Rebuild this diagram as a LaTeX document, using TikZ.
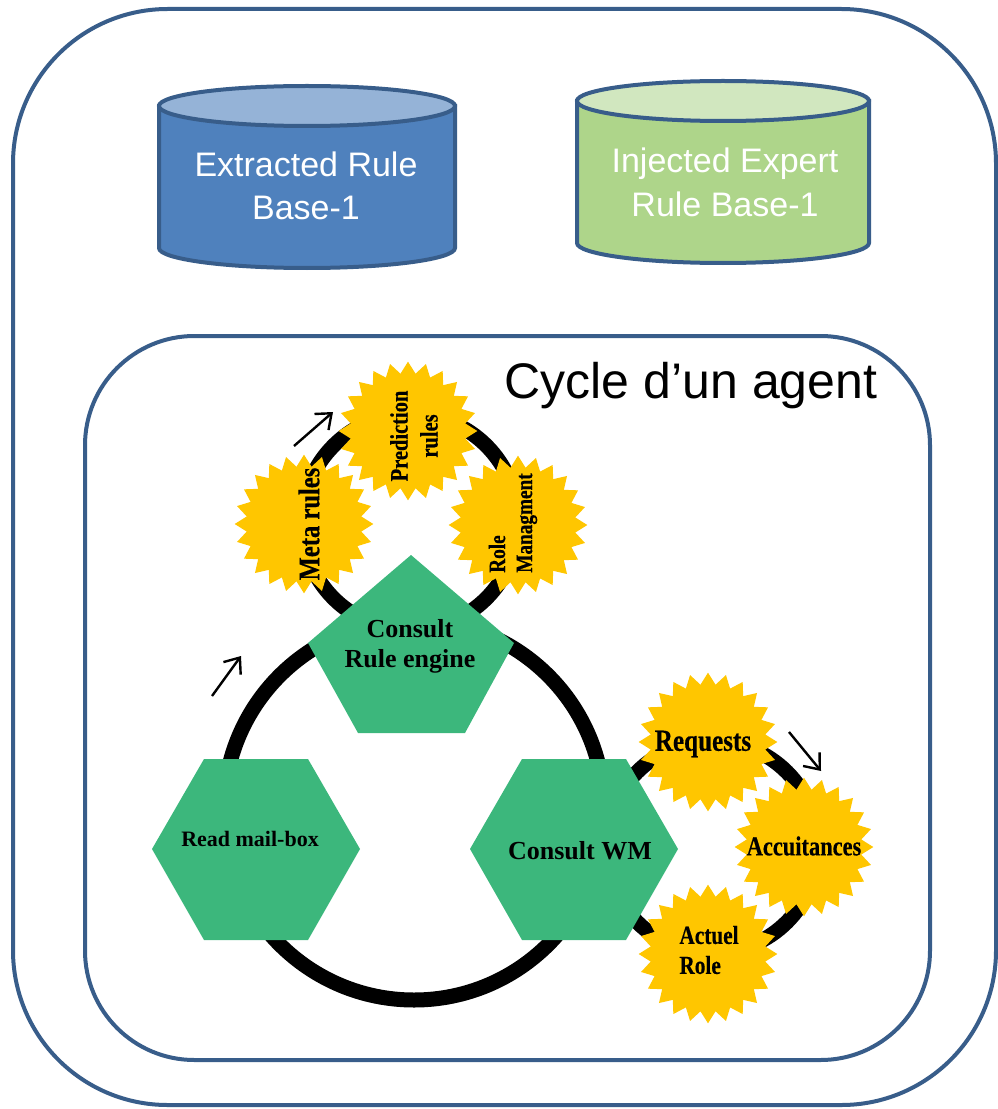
\documentclass[tikz,border=0pt]{standalone}
\usepackage{fontspec}
\setmainfont{Liberation Serif}
\newfontfamily\headfont{Liberation Sans}
\newfontfamily\tagfont[FakeStretch=0.82, BoldFeatures={FakeBold=0.4}]{Liberation Serif}
\usetikzlibrary{shapes.geometric,arrows.meta}

\definecolor{frameblue}{RGB}{56,93,138}
\definecolor{dbblue}{RGB}{79,129,189}
\definecolor{dbbluetop}{RGB}{149,179,215}
\definecolor{dbgreen}{RGB}{174,213,138}
\definecolor{dbgreentop}{RGB}{209,231,191}
\definecolor{stagegreen}{RGB}{60,183,124}
\definecolor{staryellow}{RGB}{255,198,0}

\tikzset{
  frame/.style={draw=frameblue, line width=3pt},
  dbtext/.style={anchor=base, text=white, inner sep=0pt,
    font=\headfont\fontsize{25.5pt}{30pt}\selectfont},
  stage/.style={fill=stagegreen},
  stagetext/.style={inner sep=0pt, align=center, font=\bfseries},
  burst/.style={star, star points=24, star point ratio=1.2, fill=staryellow,
    inner sep=0pt, minimum size=104pt},
  bursttext/.style={inner sep=0pt, font=\tagfont\bfseries},
  ring/.style={line width=11.25pt, black},
  turn/.style={line width=1.8pt, -{Straight Barb[length=10pt,width=16pt]}}
}

\begin{document}
\begin{tikzpicture}[x=0.75pt,y=-0.75pt]
\useasboundingbox (0,0) rectangle (998,1109);

% outer and inner frames
\draw[frame, rounded corners=116pt] (13,9) rectangle (996,1105);
\draw[frame, rounded corners=82pt] (85,336) rectangle (930,1060);

% rule bases (cylinders)
\filldraw[frame, fill=dbblue] (159,106) -- (159,248)
  arc[start angle=180, end angle=360, x radius=111pt, y radius=15pt] -- (455,106) -- cycle;
\filldraw[frame, fill=dbbluetop] (307,106) ellipse[x radius=111pt, y radius=15pt];
\node[dbtext] (ext1) at (306,177) {Extracted Rule};
\node[dbtext] (ext2) at (306,220) {Base-1};

\filldraw[frame, fill=dbgreen] (577,101) -- (577,243)
  arc[start angle=180, end angle=360, x radius=109.5pt, y radius=15pt] -- (869,101) -- cycle;
\filldraw[frame, fill=dbgreentop] (723,101) ellipse[x radius=109.5pt, y radius=15pt];
\node[dbtext] (inj1) at (725,173) {Injected Expert};
\node[dbtext] (inj2) at (725,217) {Rule Base-1};

% title of the agent cycle
\node[anchor=base, inner sep=0pt, font=\headfont\fontsize{37.5pt}{45pt}\selectfont]
  (title) at (691,398) {Cycle d’un agent};

% rings linking the stages and the rule stars
\draw[ring] (414,810) circle[radius=142.5pt];
\draw[ring] (410,522) circle[radius=81pt];
\draw[ring] (712,847) circle[radius=79.5pt];

% rule stars around the rule engine
\node[burst] (meta) at (304,524) {};
\node[burst] (pred) at (408,431) {};
\node[burst] (role) at (518,525) {};
\node[bursttext, rotate=90, font=\tagfont\bfseries\fontsize{22.5pt}{22.5pt}\selectfont]
  (metat) at (309,524) {Meta rules};
\node[bursttext, rotate=90, align=center, font=\tagfont\bfseries\fontsize{18.75pt}{22.5pt}\selectfont]
  (predt) at (414,436) {Prediction\\rules};
\node[bursttext, rotate=90, align=left, font=\tagfont\bfseries\fontsize{17.6pt}{20.25pt}\selectfont]
  (rolet) at (513,523) {Role\\Managment};

% memory stars around the working memory
\node[burst] (req) at (708,742) {};
\node[burst] (acc) at (804,847) {};
\node[burst] (act) at (708,954) {};
\node[bursttext, font=\tagfont\bfseries\fontsize{23pt}{22.5pt}\selectfont]
  (reqt) at (703,744) {Requests};
\node[bursttext, font=\tagfont\bfseries\fontsize{20.5pt}{22.5pt}\selectfont]
  (acct) at (804,846) {Accuitances};
\node[bursttext, align=left, font=\tagfont\bfseries\fontsize{19.5pt}{22.5pt}\selectfont]
  (actt) at (709,950) {Actuel\\Role};

% cycle stages
\path[stage] (411,555) -- (514,643) -- (465,733) -- (358,733) -- (308,643) -- cycle;
\node[stagetext, font=\bfseries\fontsize{19.5pt}{22.5pt}\selectfont]
  (engine) at (410,646) {Consult\\Rule engine};

\path[stage] (152,849) -- (204,759) -- (308,759) -- (360,849) -- (308,940) -- (204,940) -- cycle;
\node[stagetext, font=\bfseries\fontsize{16.5pt}{20pt}\selectfont]
  (mail) at (250,839) {Read mail-box};

\path[stage] (470,849) -- (522,759) -- (626,759) -- (678,849) -- (626,940) -- (522,940) -- cycle;
\node[stagetext, font=\bfseries\fontsize{19.5pt}{22.5pt}\selectfont]
  (wm) at (580,851) {Consult WM};

% direction marks
\coordinate (d1a) at (212,696); \coordinate (d1b) at (241,656);
\coordinate (d2a) at (294,446); \coordinate (d2b) at (333,412);
\coordinate (d3a) at (789,732); \coordinate (d3b) at (821,771);
\draw[turn] (d1a) -- (d1b);
\draw[turn] (d2a) -- (d2b);
\draw[turn] (d3a) -- (d3b);
\end{tikzpicture}
\end{document}
